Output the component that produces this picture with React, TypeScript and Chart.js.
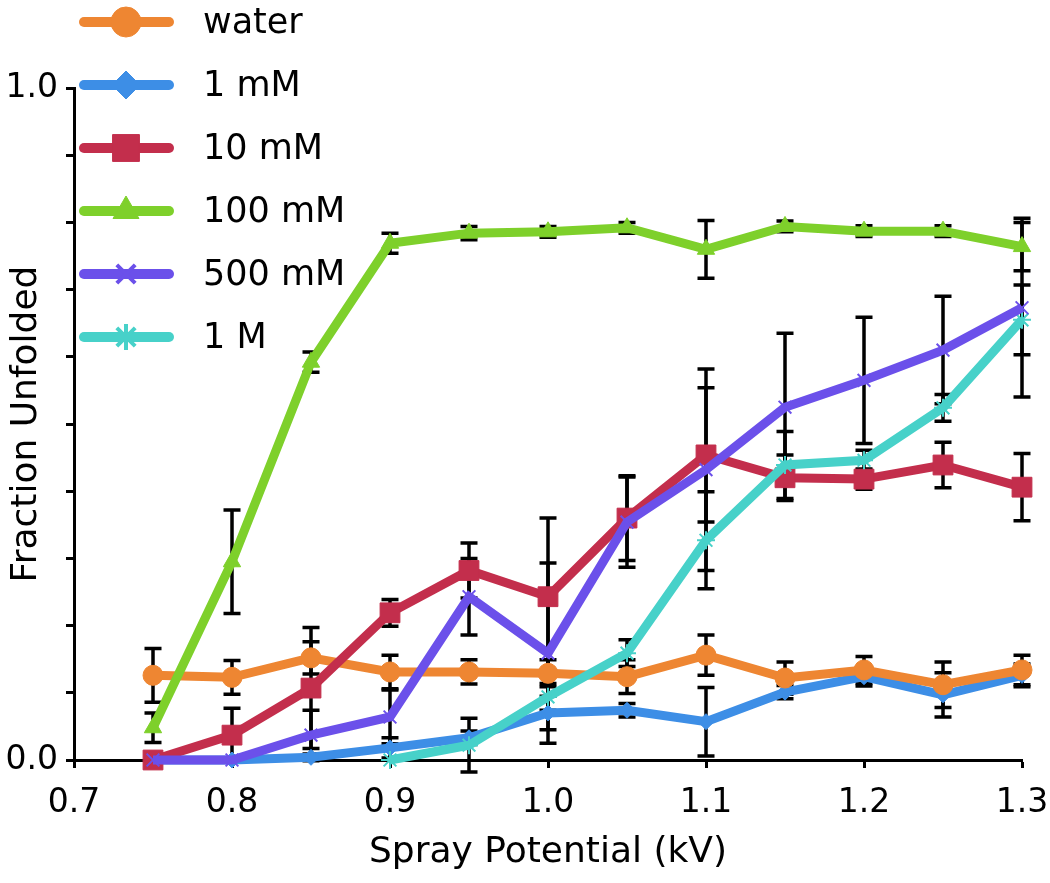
import React, { useEffect, useRef } from 'react';
import { Chart, registerables } from 'chart.js';
import { drawPoint } from 'chart.js/helpers';

Chart.register(...registerables);

// Spray potential (kV)
const potentials = [0.75, 0.8, 0.85, 0.9, 0.95, 1.0, 1.05, 1.1, 1.15, 1.2, 1.25, 1.3];

// Fraction unfolded per solution, with error bar half-widths
const water = [0.126, 0.123, 0.152, 0.131, 0.131, 0.129, 0.124, 0.156, 0.122, 0.134, 0.112, 0.134];
const waterErr = [0.04, 0.025, 0.024, 0.025, 0.018, 0.02, 0.025, 0.03, 0.024, 0.02, 0.034, 0.022];

const mM1 = [0, 0, 0.004, 0.018, 0.033, 0.07, 0.074, 0.057, 0.101, 0.124, 0.097, 0.126];
const mM1Err = [0, 0, 0.005, 0.015, 0.01, 0.025, 0.01, 0.051, 0.01, 0.014, 0.033, 0.017];

const mM10 = [0, 0.037, 0.107, 0.219, 0.282, 0.243, 0.36, 0.454, 0.42, 0.418, 0.439, 0.406];
const mM10Err = [0, 0.04, 0.09, 0.02, 0.041, 0.117, 0.063, 0.1, 0.034, 0.015, 0.034, 0.05];

const mM100 = [0.048, 0.295, 0.592, 0.769, 0.784, 0.786, 0.792, 0.76, 0.794, 0.787, 0.787, 0.764];
const mM100Err = [0.022, 0.077, 0.015, 0.015, 0.01, 0.008, 0.008, 0.043, 0.008, 0.008, 0.008, 0.036];

const mM500 = [0, 0, 0.037, 0.064, 0.243, 0.159, 0.354, 0.432, 0.525, 0.565, 0.61, 0.673];
const mM500Err = [0, 0, 0.037, 0.04, 0.057, 0.134, 0.067, 0.15, 0.11, 0.094, 0.08, 0.133];

const M1 = [null, null, null, 0, 0.022, 0.094, 0.159, 0.327, 0.439, 0.446, 0.524, 0.655];
const M1Err = [null, null, null, 0, 0.04, 0.02, 0.02, 0.072, 0.05, 0.015, 0.02, 0.052];

const seriesLabels = ['water', '1 mM', '10 mM', '100 mM', '500 mM', '1 M'];
const seriesValues = [water, mM1, mM10, mM100, mM500, M1];
const seriesErrors = [waterErr, mM1Err, mM10Err, mM100Err, mM500Err, M1Err];

// Axis ticks
const xMin = 0.7;
const xMax = 1.3;
const xStep = 0.1;
const yMin = 0;
const yMax = 1.0;
const yStep = 0.1;
const yLabelledTicks = [0, 1.0];

const xTitle = 'Spray Potential (kV)';
const yTitle = 'Fraction Unfolded';

// Styles (not data)
const styles = [
  { color: '#EE8632', pointStyle: 'circle', radius: 10, legendRadius: 15, pbw: 1, order: 4 },
  { color: '#3D8EE6', pointStyle: 'rectRot', radius: 8, legendRadius: 14, pbw: 1, order: 5 },
  { color: '#C32E4C', pointStyle: 'rect', radius: 14, legendRadius: 19, pbw: 1, order: 3 },
  { color: '#7ED02B', pointStyle: 'triangle', radius: 10, legendRadius: 15, pbw: 1, order: 0 },
  { color: '#6B50EA', pointStyle: 'crossRot', radius: 9, legendRadius: 13, pbw: 2, order: 1 },
  { color: '#47D1C9', pointStyle: 'star', radius: 9, legendRadius: 13, pbw: 2, order: 2 },
];

const FONT = "'DejaVu Sans', 'Liberation Sans', Arial, sans-serif";

const errorBarPlugin = {
  id: 'errorBars',
  beforeDatasetsDraw(chart: any) {
    const { ctx } = chart;
    const xs = chart.scales.x;
    const ys = chart.scales.y;
    ctx.save();
    ctx.strokeStyle = '#000';
    ctx.lineWidth = 3.5;
    chart.data.datasets.forEach((ds: any) => {
      const errs: (number | null)[] = ds.errors;
      ds.data.forEach((pt: any, j: number) => {
        const e = errs[j];
        if (pt.y === null || e === null || e === undefined || e <= 0) return;
        const px = xs.getPixelForValue(pt.x);
        const top = ys.getPixelForValue(pt.y + e);
        const bot = ys.getPixelForValue(pt.y - e);
        const cap = 8.5;
        ctx.beginPath();
        ctx.moveTo(px, top);
        ctx.lineTo(px, bot);
        ctx.moveTo(px - cap, top);
        ctx.lineTo(px + cap, top);
        ctx.moveTo(px - cap, bot);
        ctx.lineTo(px + cap, bot);
        ctx.stroke();
      });
    });
    ctx.restore();
  },
};

const legendPlugin = {
  id: 'customLegend',
  afterDatasetsDraw(chart: any) {
    const { ctx } = chart;
    const startY = 22;
    const gap = 63;
    const lineX0 = 84;
    const lineX1 = 169;
    const markX = 126;
    const textX = 203;
    ctx.save();
    seriesLabels.forEach((label, i) => {
      const st = styles[i];
      const y = startY + i * gap;
      ctx.strokeStyle = st.color;
      ctx.lineWidth = 10;
      ctx.lineCap = 'round';
      ctx.beginPath();
      ctx.moveTo(lineX0, y);
      ctx.lineTo(lineX1, y);
      ctx.stroke();
      ctx.lineCap = 'butt';
      ctx.fillStyle = st.color;
      ctx.strokeStyle = st.color;
      ctx.lineWidth = st.pbw === 2 ? 4 : 1;
      drawPoint(ctx, { pointStyle: st.pointStyle, radius: st.legendRadius, rotation: 0, borderWidth: ctx.lineWidth } as any, markX, y);
      ctx.fillStyle = '#000';
      ctx.font = `35px ${FONT}`;
      ctx.textAlign = 'left';
      ctx.textBaseline = 'middle';
      ctx.fillText(label, textX, y + 2);
    });
    ctx.restore();
  },
};

export default function App() {
  const canvasRef = useRef<HTMLCanvasElement | null>(null);

  useEffect(() => {
    const canvas = canvasRef.current;
    if (!canvas) return;
    const datasets = seriesLabels.map((label, i) => {
      const st = styles[i];
      return {
        label,
        data: potentials.map((p, j) => ({ x: p, y: seriesValues[i][j] })),
        errors: seriesErrors[i],
        borderColor: st.color,
        backgroundColor: st.color,
        borderWidth: 9,
        pointStyle: st.pointStyle,
        pointRadius: st.radius,
        pointBackgroundColor: st.color,
        pointBorderColor: st.color,
        pointBorderWidth: st.pbw,
        tension: 0,
        clip: false,
        order: st.order,
        spanGaps: false,
      };
    });

    const chart = new Chart(canvas, {
      type: 'line',
      data: { datasets: datasets as any },
      options: {
        animation: false,
        responsive: true,
        maintainAspectRatio: false,
        layout: { padding: { top: 88, right: 0, left: 0, bottom: 0 } },
        plugins: { legend: { display: false }, tooltip: { enabled: false } },
        scales: {
          x: {
            type: 'linear',
            min: xMin,
            max: xMax,
            afterFit: (scale: any) => {
              scale.height = 123;
              scale.paddingRight = 28;
              scale.paddingLeft = 0;
            },
            border: { display: true, color: '#000', width: 3 },
            grid: { display: true, drawOnChartArea: false, drawTicks: true, tickLength: 8, tickColor: '#000', tickWidth: 3 },
            ticks: {
              stepSize: xStep,
              color: '#000',
              padding: 16,
              maxRotation: 0,
              font: { family: FONT, size: 33 },
              callback: (v: any) => Number(v).toFixed(1),
            },
            title: {
              display: true,
              text: xTitle,
              color: '#000',
              font: { family: FONT, size: 36 },
              padding: { top: 0, bottom: 9 },
            },
          },
          y: {
            type: 'linear',
            min: yMin,
            max: yMax,
            afterFit: (scale: any) => { scale.width = 74; },
            border: { display: true, color: '#000', width: 3 },
            grid: { display: true, drawOnChartArea: false, drawTicks: true, tickLength: 8, tickColor: '#000', tickWidth: 3 },
            ticks: {
              stepSize: yStep,
              color: '#000',
              padding: 8,
              autoSkip: false,
              font: { family: FONT, size: 33 },
              callback: (v: any) => {
                const n = Number(v);
                const hit = yLabelledTicks.find((t) => Math.abs(t - n) < 1e-9);
                return hit === undefined ? '' : hit.toFixed(1);
              },
            },
            title: {
              display: true,
              text: yTitle,
              color: '#000',
              font: { family: FONT, size: 36 },
              padding: { top: 5, bottom: 0 },
            },
          },
        },
      },
      plugins: [errorBarPlugin, legendPlugin],
    });
    return () => chart.destroy();
  }, []);

  return (
    <div style={{ position: 'absolute', left: 0, top: 0, width: 1050, height: 883, background: '#fff' }}>
      <canvas ref={canvasRef} />
    </div>
  );
}
